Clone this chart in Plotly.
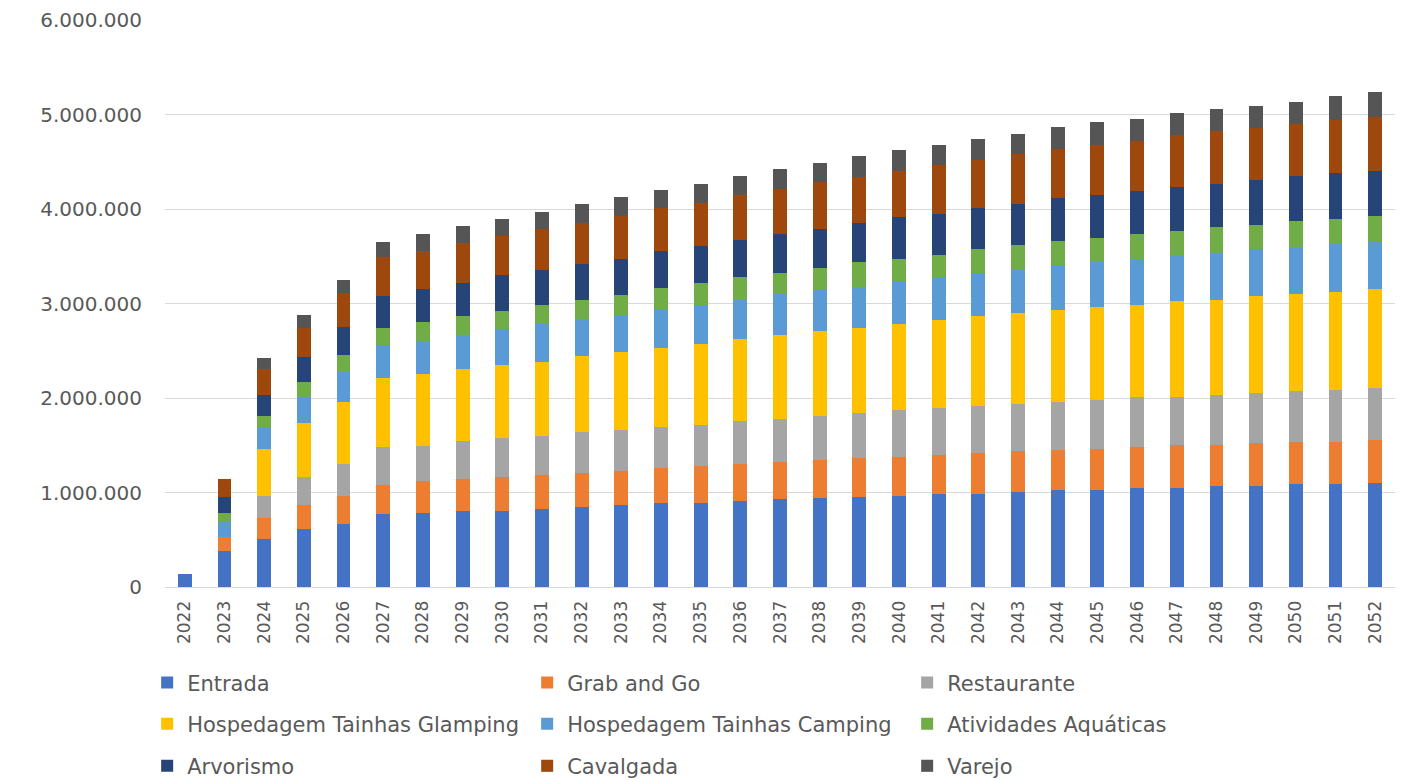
import plotly.graph_objects as go

# Anos do horizonte de projeção
anos = [str(a) for a in range(2022, 2053)]

# Receita anual por atividade (R$)
entrada = [140000, 378000, 508000, 611000, 671000, 770000, 787000, 808000, 808000, 829000,
           847000, 865000, 887000, 887000, 908000, 929000, 946000, 950000, 967000, 988000,
           988000, 1006000, 1028000, 1028000, 1046000, 1046000, 1067000, 1067000, 1088000, 1088000,
           1105000]
grab_and_go = [0, 155000, 222000, 254000, 297000, 314000, 336000, 336000, 357000, 354000,
               357000, 360000, 377000, 398000, 395000, 395000, 396000, 413000, 413000, 413000,
               434000, 434000, 420000, 434000, 434000, 455000, 434000, 455000, 451000, 451000,
               455000]
restaurante = [0, 0, 236000, 297000, 333000, 396000, 374000, 399000, 413000, 416000,
               434000, 434000, 434000, 431000, 452000, 452000, 472000, 477000, 495000, 495000,
               495000, 495000, 512000, 512000, 533000, 512000, 530000, 530000, 534000, 551000,
               551000]
glamping = [0, 0, 492000, 572000, 657000, 731000, 752000, 766000, 770000, 787000,
            808000, 826000, 826000, 851000, 869000, 890000, 890000, 904000, 908000, 925000,
            946000, 967000, 971000, 989000, 971000, 1010000, 1010000, 1028000, 1028000, 1032000,
            1046000]
camping = [0, 159000, 239000, 275000, 314000, 353000, 354000, 360000, 377000, 396000,
           395000, 395000, 417000, 413000, 416000, 434000, 434000, 434000, 451000, 455000,
           455000, 452000, 474000, 472000, 490000, 492000, 495000, 494000, 494000, 512000,
           495000]
aquaticas = [0, 95000, 117000, 159000, 180000, 180000, 201000, 197000, 198000, 197000,
             198000, 215000, 218000, 237000, 236000, 218000, 237000, 257000, 240000, 237000,
             254000, 261000, 257000, 258000, 257000, 257000, 275000, 258000, 275000, 257000,
             279000]
arvorismo = [0, 163000, 219000, 261000, 304000, 336000, 353000, 354000, 378000, 378000,
             378000, 378000, 396000, 395000, 396000, 413000, 416000, 417000, 438000, 438000,
             439000, 434000, 456000, 456000, 456000, 459000, 456000, 472000, 474000, 495000,
             474000]
cavalgada = [0, 194000, 275000, 315000, 350000, 416000, 395000, 416000, 413000, 434000,
             434000, 455000, 451000, 455000, 477000, 477000, 495000, 490000, 492000, 512000,
             512000, 534000, 512000, 533000, 534000, 551000, 554000, 555000, 554000, 551000,
             572000]
varejo = [0, 0, 120000, 138000, 138000, 156000, 180000, 180000, 176000, 180000,
          197000, 194000, 198000, 198000, 197000, 216000, 197000, 219000, 218000, 219000,
          219000, 215000, 237000, 236000, 236000, 237000, 236000, 236000, 237000, 257000,
          257000]

series = [
    ("Entrada", entrada, "#4472C4", "legend"),
    ("Grab and Go", grab_and_go, "#ED7D31", "legend"),
    ("Restaurante", restaurante, "#A5A5A5", "legend"),
    ("Hospedagem Tainhas Glamping", glamping, "#FFC000", "legend2"),
    ("Hospedagem Tainhas Camping", camping, "#5B9BD5", "legend2"),
    ("Atividades Aquáticas", aquaticas, "#70AD47", "legend2"),
    ("Arvorismo", arvorismo, "#264478", "legend3"),
    ("Cavalgada", cavalgada, "#9E480E", "legend3"),
    ("Varejo", varejo, "#555555", "legend3"),
]

TEXT = "#595959"
FONT = "DejaVu Sans"

fig = go.Figure()
for nome, valores, cor, leg in series:
    fig.add_trace(go.Bar(
        x=anos, y=valores, name=nome, legend=leg,
        marker=dict(color=cor, line=dict(width=0)),
    ))

def legenda(y):
    return dict(
        orientation="h", x=-0.0145, xanchor="left", y=y, yanchor="middle",
        entrywidth=335, entrywidthmode="pixels",
        font=dict(family=FONT, size=21, color=TEXT),
        bgcolor="rgba(0,0,0,0)", traceorder="normal",
    )

fig.update_layout(
    barmode="stack",
    bargap=0.65,
    width=1415, height=780,
    margin=dict(l=165, r=20, t=20, b=193, autoexpand=False),
    paper_bgcolor="white", plot_bgcolor="white",
    separators=",.",
    font=dict(family=FONT, color=TEXT),
    legend=legenda(-0.169),
    legend2=legenda(-0.242),
    legend3=legenda(-0.316),
    xaxis=dict(
        type="category", tickangle=-90,
        tickfont=dict(family=FONT, size=17, color=TEXT),
        showgrid=False, showline=True, linecolor="#D9D9D9", linewidth=1,
        ticks="", ticklabelstandoff=6,
    ),
    yaxis=dict(
        range=[0, 6000000], dtick=1000000, tickformat=",d",
        tickfont=dict(family=FONT, size=20, color=TEXT),
        showgrid=True, gridcolor="#D9D9D9", gridwidth=1,
        zeroline=False, showline=False, ticks="", ticklabelstandoff=22,
    ),
)

fig.write_html("out.html")
